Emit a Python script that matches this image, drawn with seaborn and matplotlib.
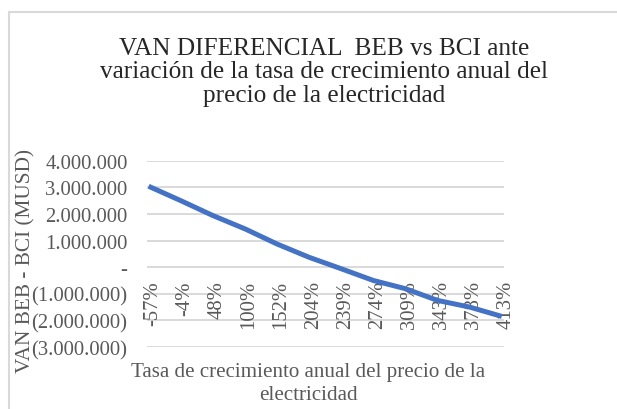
import matplotlib
matplotlib.use("Agg")
import matplotlib.pyplot as plt
import matplotlib.lines as mlines
import matplotlib.transforms as mtransforms
import seaborn as sns
import pandas as pd

categories = ["-57%", "-4%", "48%", "100%", "152%", "204%", "239%", "274%",
              "309%", "343%", "378%", "413%"]
van_diff = [3040000, 2500000, 1940000, 1440000, 870000, 370000, -60000,
            -500000, -810000, -1250000, -1500000, -1850000]
y_ticks = [4000000, 3000000, 2000000, 1000000, 0, -1000000, -2000000, -3000000]
y_tick_labels = ["4.000.000", "3.000.000", "2.000.000", "1.000.000", "-",
                 "(1.000.000)", "(2.000.000)", "(3.000.000)"]
title = "VAN DIFERENCIAL  BEB vs BCI ante\nvariación de la tasa de crecimiento anual del\nprecio de la electricidad"
xlabel = "Tasa de crecimiento anual del precio de la\nelectricidad"
ylabel = "VAN BEB - BCI (MUSD)"

sns.set_theme(style="white")
plt.rcParams["font.family"] = ["Liberation Serif", "DejaVu Serif"]

W, H = 617, 410
fig = plt.figure(figsize=(W / 100, H / 100), dpi=100)
ax = fig.add_axes([147 / W, 1 - 348 / H, (504 - 147) / W, (348 - 161.7) / H])

df = pd.DataFrame({"idx": range(len(categories)), "van": van_diff})
for yv in y_ticks:
    ax.axhline(yv, color="#d9d9d9", lw=1.4, zorder=0)
sns.lineplot(data=df, x="idx", y="van", ax=ax, color="#4472C4", lw=3.6,
             zorder=3, solid_capstyle="butt")

ax.set_xlim(-0.05, len(categories) - 1 + 0.07)
ax.set_ylim(-3000000, 4000000)
ax.set_yticks(y_ticks)
ax.set_yticklabels(y_tick_labels, fontsize=14.9, color="#595959")
ax.tick_params(axis="y", length=0, pad=14)
ax.set_xticks([])
ax.set_xlabel("")
ax.set_ylabel("")
for s in ax.spines.values():
    s.set_visible(False)

offset = mtransforms.offset_copy(ax.transData, fig=fig, x=4, y=-13, units="dots")
for i, lab in enumerate(categories):
    ax.text(i, 0, lab, rotation=90, ha="center", va="top", fontsize=14.9,
            color="#595959", transform=offset, zorder=2)

fig.text(324 / W, 1 - 72.5 / H, title, ha="center", va="center", fontsize=18.2,
         color="#262626", linespacing=1.1)
fig.text(308 / W, 1 - 384 / H, xlabel, ha="center", va="center", fontsize=15.1,
         color="#595959", linespacing=1.22)
fig.text(26 / W, 1 - 261 / H, ylabel, ha="center", va="center", rotation=90,
         fontsize=15.3, color="#595959")

fig.add_artist(mlines.Line2D([9 / W, 1], [1 - 13 / H, 1 - 13 / H],
                             transform=fig.transFigure, color="#d9d9d9", lw=1.5))
fig.add_artist(mlines.Line2D([9 / W, 9 / W], [0, 1 - 13 / H],
                             transform=fig.transFigure, color="#d9d9d9", lw=1.5))

fig.savefig("out.png", dpi=100, facecolor="white")
